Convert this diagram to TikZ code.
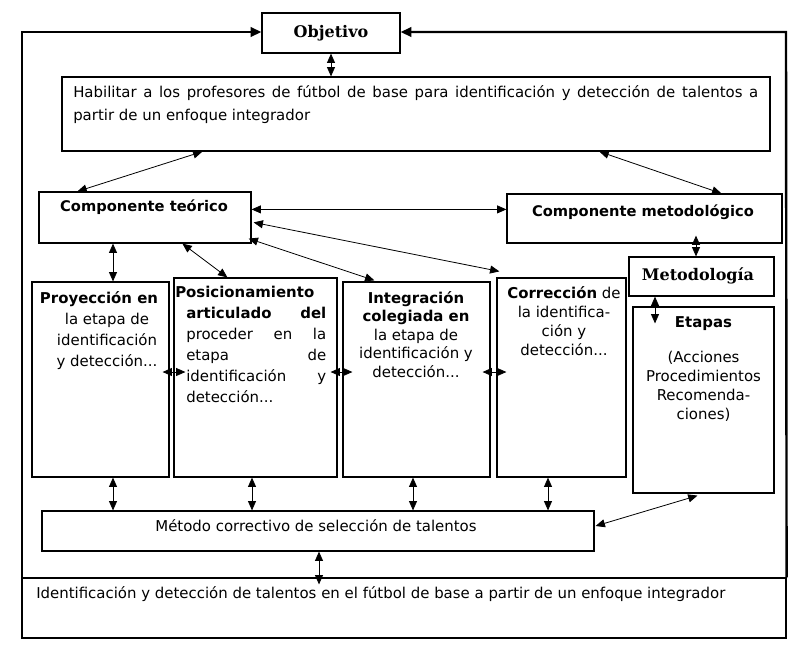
\documentclass[tikz,border=0pt]{standalone}
\usepackage{fontspec}
\setmainfont{DejaVu Sans}
\newfontfamily\cambria{DejaVu Serif}
\usepackage{tikz}
\usetikzlibrary{arrows.meta,calc,fit}

\begin{document}
\begin{tikzpicture}[x=0.75pt,y=-0.75pt,
  box/.style={draw,line width=.9pt,inner sep=0pt},
  dbl/.style={line width=.6pt,{Triangle[length=7pt,width=6pt]}-{Triangle[length=7pt,width=6pt]}},
  frame/.style={line width=1.8pt},
  txt/.style={font=\fontsize{11.2}{#1}\selectfont,inner sep=0pt},
  txt/.default=14,
  bold/.style={font=\fontsize{11}{13}\selectfont\bfseries,inner sep=0pt},
  serif/.style={font=\cambria\fontsize{12}{14}\selectfont\bfseries,inner sep=0pt}]
\useasboundingbox (0,0) rectangle (804,658);
% boxes
\node[box,fit={(262,13) (400,53)}] (obj) {};
\node[box,fit={(62,77) (770,151)}] (hab) {};
\node[box,fit={(39,192) (251,243)}] (teo) {};
\node[box,fit={(507,194) (782,243)}] (met) {};
\node[box,fit={(629,257) (774,296)}] (metd) {};
\node[box,fit={(633,307) (774,493)}] (eta) {};
\node[box,fit={(32,282) (169,477)}] (proy) {};
\node[box,fit={(174,278) (337,477)}] (pos) {};
\node[box,fit={(343,282) (490,477)}] (int) {};
\node[box,fit={(497,278) (626,477)}] (cor) {};
\node[box,fit={(42,511) (594,551)}] (mtd) {};
\node[box,fit={(22,578) (786,638)}] (bot) {};
% outer frame
\coordinate (tl) at (22,32);
\coordinate (tr) at (786,32);
\coordinate (ll) at (22,583);
\draw[frame,-{Triangle[length=8pt,width=7pt]}] (ll) -- (tl) -- (tl -| obj.west);
\draw[frame,-{Triangle[length=8pt,width=7pt]}] (bot.north east) -- (tr) -- (tr -| obj.east);
% texts
\node[serif] (objt) at (obj) {Objetivo};
\node[txt=17.25,anchor=north west,text width=513.75pt,align=justify] (habt) at (73,85) {Habilitar a los profesores de fútbol de base para identificación y detección de talentos a\linebreak partir de un enfoque integrador};
\node[bold] (teot) at (144,207) {Componente teórico};
\node[bold] (mett) at (643,212) {Componente metodológico};
\node[serif] (metdt) at (698,276) {Metodología};
\node[txt=15.75,anchor=north,align=center] (proyt) at (107,291) {\textbf{Proyección en}\hspace*{12pt}\\la etapa de\\identificación\\y detección...};
\node[txt=15.75,anchor=north west,text width=105pt,align=left] (post) at (186,286) {\hspace*{-8.25pt}\textbf{Posicionamiento}\\\textbf{articulado}\hfill\textbf{del}\\proceder\hfill en\hfill la\\etapa\hfill de\\identificación\hfill y\\detección...};
\node[txt=13.9,anchor=north,align=center] (intt) at (416,291) {\textbf{Integración}\\\textbf{colegiada en}\\la etapa de\\identificación y\\detección...};
\node[txt=14.25,anchor=north,align=center] (cort) at (564,286) {\textbf{Corrección} de\\la identifica-\\ción y\\detección...};
\node[txt=14.25,anchor=north,align=center] (etat) at (703.5,316) {\textbf{Etapas}\\[12pt](Acciones\\Procedimientos\\Recomenda-\\ciones)};
\node[txt] (mtdt) at (316,526) {Método correctivo de selección de talentos};
\node[txt,anchor=west] (bott) at (36,594) {Identificación y detección de talentos en el fútbol de base a partir de un enfoque integrador};
% connectors
\coordinate (v1) at (113,0);
\coordinate (v2) at (252,0);
\coordinate (v3) at (413,0);
\coordinate (v4) at (548,0);
\coordinate (v5) at (319,0);
\coordinate (v6) at (696,0);
\coordinate (v7) at (655,0);
\coordinate (ha) at (0,372);
\coordinate (h0) at ($(teo.north east)+(0,18)$);
\draw[dbl] (obj.south) -- (obj.south |- hab.north);
\draw[dbl] ($(hab.south west)+(141,0)$) -- ($(teo.north west)+(39,0)$);
\draw[dbl] ($(hab.south west)+(538,0)$) -- ($(met.north west)+(215,0)$);
\draw[dbl] (h0) -- (h0 -| met.west);
\draw[dbl] ($(teo.north east)+(2,31)$) -- ($(cor.north west)+(3,-6)$);
\draw[dbl] ($(teo.south east)+(-3,-5)$) -- ($(int.north west)+(32,-1)$);
\draw[dbl] ($(teo.south west)+(144,0)$) -- ($(pos.north west)+(54,0)$);
\draw[dbl] (v1 |- teo.south) -- (v1 |- proy.north);
\draw[dbl,shorten <=-6pt] (v6 |- met.south) -- (v6 |- metd.north);
\draw[dbl,shorten >=-12.75pt] (v7 |- metd.south) -- (v7 |- eta.north);
\draw[dbl,shorten <=-5.25pt,shorten >=-9pt] (ha -| proy.east) -- (ha -| pos.west);
\draw[dbl,shorten <=-5.25pt,shorten >=-7.5pt] (ha -| pos.east) -- (ha -| int.west);
\draw[dbl,shorten <=-6pt,shorten >=-7.5pt] (ha -| int.east) -- (ha -| cor.west);
\draw[dbl] (v1 |- proy.south) -- (v1 |- mtd.north);
\draw[dbl] (v2 |- pos.south) -- (v2 |- mtd.north);
\draw[dbl] (v3 |- int.south) -- (v3 |- mtd.north);
\draw[dbl] (v4 |- cor.south) -- (v4 |- mtd.north);
\draw[dbl] ($(mtd.east)+(1,-5)$) -- ($(eta.south)+(-6,2)$);
\draw[dbl,shorten >=-5.25pt] (v5 |- mtd.south) -- (v5 |- bot.north);
\end{tikzpicture}
\end{document}
